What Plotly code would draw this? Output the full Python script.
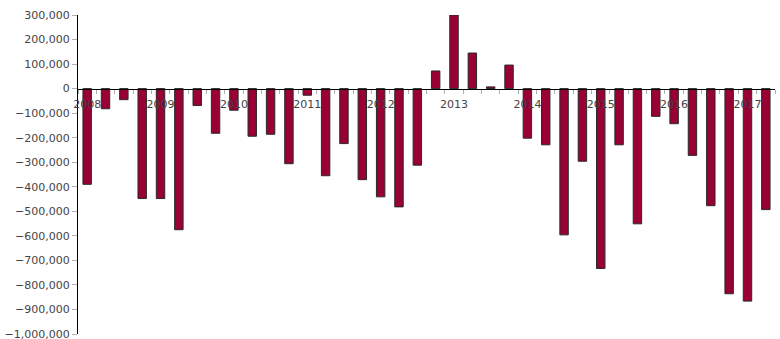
import plotly.graph_objects as go

years = [str(y) for y in range(2008, 2018)]
quarters = [f"{y}Q{q}" for y in range(2008, 2018) for q in range(1, 5)][:38]
values = [
    -390000, -82000, -45000, -448000,
    -448000, -575000, -69000, -182000,
    -88000, -194000, -186000, -306000,
    -27000, -355000, -224000, -371000,
    -441000, -482000, -312000, 72000,
    300000, 145000, 7000, 96000,
    -202000, -229000, -596000, -296000,
    -733000, -229000, -551000, -113000,
    -143000, -272000, -477000, -836000,
    -866000, -493000,
]
y_ticks = list(range(-1000000, 300001, 100000))

fig = go.Figure()
fig.add_trace(go.Bar(
    x=quarters, y=values,
    marker=dict(color="#990033", line=dict(color="#2a2a2a", width=1)),
    width=0.46,
))

fig.update_layout(
    width=780, height=339,
    margin=dict(l=78, r=5, t=15, b=5, autoexpand=False),
    paper_bgcolor="white", plot_bgcolor="white",
    showlegend=False,
    font=dict(family="DejaVu Sans", size=11, color="#444444"),
    xaxis=dict(
        type="category",
        range=[-0.5, len(quarters) - 0.5],
        anchor="free", position=(0 - (-1000000)) / 1300000,
        showline=True, linecolor="black", linewidth=1,
        tickmode="array", tickvals=quarters[0::4], ticktext=years,
        ticks="", ticklabelstandoff=5,
        minor=dict(tickmode="array", tickvals=[i - 0.5 for i in range(len(quarters) + 1)],
                   ticks="outside", ticklen=4, tickcolor="#b0b0b0", tickwidth=1),
        showgrid=False, zeroline=False, automargin=False,
        tickfont=dict(family="DejaVu Sans", size=11, color="#444444"),
    ),
    yaxis=dict(
        range=[-1000000, 300000],
        tickmode="array", tickvals=y_ticks,
        tickformat=",",
        showline=True, linecolor="black", linewidth=1,
        ticks="outside", ticklen=5, tickcolor="#b0b0b0",
        showgrid=False, zeroline=False, automargin=False,
        ticklabeloverflow="allow",
        tickfont=dict(family="DejaVu Sans", size=11, color="#444444"),
    ),
)

fig.write_html("out.html", config={"displayModeBar": False},
               post_script="document.body.style.margin='0';document.body.style.padding='0';")
